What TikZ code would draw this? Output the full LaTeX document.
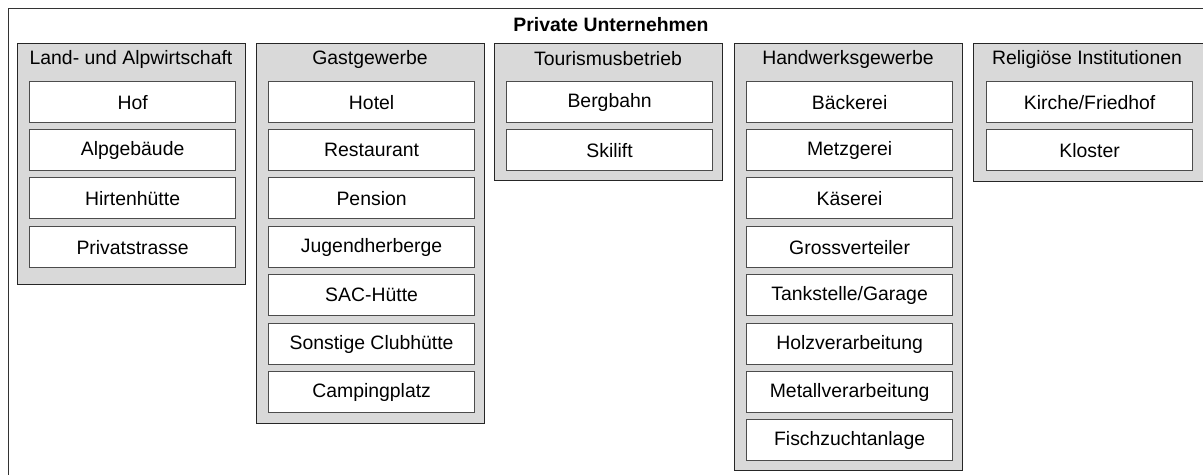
\documentclass[tikz,border=0pt]{standalone}
\usepackage{fontspec}
\setmainfont{Liberation Sans}
\usepackage{tikz}
\tikzstyle{branche}=[rectangle, draw=black!85, fill=black!15, anchor=north west, inner sep=0pt, minimum width=114pt, line width=0.5pt]
\tikzstyle{kopf}=[inner sep=0pt, font=\fontsize{9.7}{11}\selectfont]
\tikzstyle{eintrag}=[rectangle, draw=black!70, fill=white, anchor=north west, inner sep=0pt, minimum width=103pt, minimum height=20.5pt, line width=0.6pt, font=\fontsize{9.7}{11}\selectfont]
\newcommand{\branche}{\node[branche]}
\newcommand{\eintrag}{\node[eintrag]}

\begin{document}
\begin{tikzpicture}[x=0.5pt, y=-0.5pt]
            \useasboundingbox (0,0) rectangle (1203,475);
            \clip (0,0) rectangle (1203,475);
            \node[rectangle, draw=black!80, fill=white, anchor=north west, inner sep=0pt, minimum width=610pt, minimum height=250pt, line width=0.5pt] (rahmen) at (8,8){};
            \node[kopf, font=\fontsize{9.7}{11}\selectfont\bfseries] (titel) at (611,25){Private Unternehmen};
            % Land- und Alpwirtschaft
            \branche[minimum height=120.5pt] (land) at (17,43){};
            \node[kopf] (landkopf) at (131,59){Land- und Alpwirtschaft};
            \eintrag (hof) at (29,81){Hof};
            \eintrag (alp) at (29,129){Alpgebäude};
            \eintrag (hirt) at (29,177){Hirtenhütte};
            \eintrag (strasse) at (29,226){Privatstrasse};
            % Gastgewerbe
            \branche[minimum height=190pt] (gast) at (256,43){};
            \node[kopf] (gastkopf) at (370,59){Gastgewerbe};
            \eintrag (hotel) at (268,81){Hotel};
            \eintrag (rest) at (268,129){Restaurant};
            \eintrag (pension) at (268,177){Pension};
            \eintrag (jugend) at (268,226){Jugendherberge};
            \eintrag (sac) at (268,274){SAC-Hütte};
            \eintrag (club) at (268,323){Sonstige Clubhütte};
            \eintrag (camping) at (268,371){Campingplatz};
            % Tourismusbetrieb
            \branche[minimum height=68.5pt] (tour) at (494,43){};
            \node[kopf] (tourkopf) at (608,59){Tourismusbetrieb};
            \eintrag (bergbahn) at (506,81){Bergbahn};
            \eintrag (skilift) at (506,129){Skilift};
            % Handwerksgewerbe
            \branche[minimum height=213.5pt] (hand) at (734,43){};
            \node[kopf] (handkopf) at (848,59){Handwerksgewerbe};
            \eintrag (baecker) at (746,81){Bäckerei};
            \eintrag (metzger) at (746,129){Metzgerei};
            \eintrag (kaeser) at (746,177){Käserei};
            \eintrag (gross) at (746,226){Grossverteiler};
            \eintrag (tank) at (746,274){Tankstelle/Garage};
            \eintrag (holz) at (746,323){Holzverarbeitung};
            \eintrag (metall) at (746,371){Metallverarbeitung};
            \eintrag (fisch) at (746,419){Fischzuchtanlage};
            % Religiöse Institutionen
            \branche[minimum height=69pt, minimum width=118pt] (relig) at (973,43){};
            \node[kopf] (religkopf) at (1087,59){Religiöse Institutionen};
            \eintrag (kirche) at (986,81){Kirche/Friedhof};
            \eintrag (kloster) at (986,129){Kloster};
        \end{tikzpicture}
\end{document}
